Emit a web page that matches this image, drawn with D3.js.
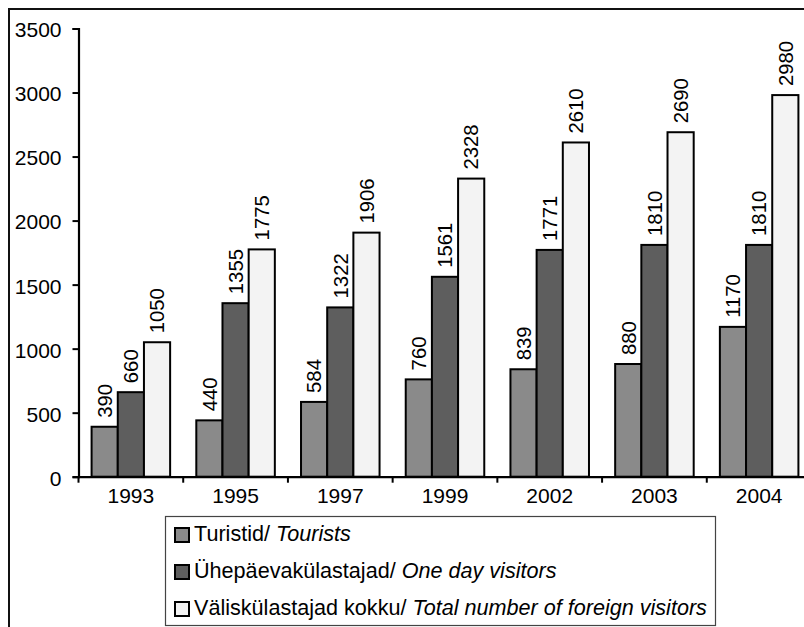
<!DOCTYPE html>
<html>
<head>
<meta charset="utf-8">
<script src="https://cdn.jsdelivr.net/npm/d3@7"></script>
<style>
  html, body { margin: 0; padding: 0; background: #fff; }
  svg { display: block; font-family: "Liberation Sans", Arial, sans-serif; }
</style>
</head>
<body>
<svg id="chart" width="804" height="627"></svg>
<script>
const years = ["1993", "1995", "1997", "1999", "2002", "2003", "2004"];
const tourists = [390, 440, 584, 760, 839, 880, 1170];
const oneDay = [660, 1355, 1322, 1561, 1771, 1810, 1810];
const total = [1050, 1775, 1906, 2328, 2610, 2690, 2980];
const yTicks = [0, 500, 1000, 1500, 2000, 2500, 3000, 3500];
const seriesKeys = ["tourists", "oneDay", "total"];
const seriesValues = [tourists, oneDay, total];
const seriesColors = ["#8a8a8a", "#5e5e5e", "#f3f3f3"];
const legendEt = ["Turistid/ ", "Ühepäevakülastajad/ ", "Väliskülastajad kokku/ "];
const legendEn = ["Tourists", "One day visitors", "Total number of foreign visitors"];

const FONT = "'Liberation Sans', Arial, sans-serif";
const svg = d3.select("#chart");

// outer chart frame (right/bottom edges fall outside the picture)
svg.append("rect")
  .attr("x", 9).attr("y", 9)
  .attr("width", 830).attr("height", 650)
  .attr("fill", "none").attr("stroke", "#111").attr("stroke-width", 2);

const x0 = 78.5, x1 = 811.5;
const y = d3.scaleLinear().domain([0, 3500]).range([476.7, 28.5]);
const x = d3.scaleBand().domain(years).range([x0, x1]).padding(0);
const step = x.step();
const xs = d3.scaleBand().domain(seriesKeys).range([step / 8, step * 7 / 8]).padding(0);

// bars
const g = svg.append("g");
years.forEach((yr, i) => {
  seriesKeys.forEach((k, j) => {
    const v = seriesValues[j][i];
    const bx = x(yr) + xs(k);
    g.append("rect")
      .attr("x", bx).attr("y", y(v))
      .attr("width", xs.bandwidth()).attr("height", y(0) - y(v))
      .attr("fill", seriesColors[j])
      .attr("stroke", "#000").attr("stroke-width", 2);
    g.append("text")
      .attr("transform", `translate(${bx + xs.bandwidth() / 2},${y(v) - 9}) rotate(-90)`)
      .attr("dy", "0.36em")
      .attr("text-anchor", "start")
      .attr("font-family", FONT)
      .attr("font-size", 20.3)
      .attr("fill", "#000")
      .text(v);
  });
});

// y axis
const yAxis = d3.axisLeft(y).tickValues(yTicks).tickSize(6).tickPadding(11).tickFormat(d3.format("d"));
const ya = svg.append("g").attr("transform", `translate(${x0},0)`).call(yAxis);
ya.select(".domain").attr("stroke", "#000").attr("stroke-width", 2.2);
ya.selectAll(".tick line").attr("stroke", "#000").attr("stroke-width", 2);
ya.selectAll(".tick text").attr("font-size", 21).attr("font-family", FONT).attr("fill", "#000").attr("dy", "0.4em");

// x axis
const xAxis = d3.axisBottom(x).tickSize(0).tickPadding(11);
const xa = svg.append("g").attr("transform", `translate(0,${y(0)})`).call(xAxis);
xa.select(".domain").attr("stroke", "#000").attr("stroke-width", 2.2);
xa.selectAll(".tick text").attr("font-size", 21).attr("font-family", FONT).attr("fill", "#000").attr("dy", "0.71em");
// boundary ticks
const bounds = years.map(yr => x(yr)).concat([x1]);
xa.selectAll(".btick").data(bounds).enter().append("line")
  .attr("x1", d => d).attr("x2", d => d)
  .attr("y1", 0).attr("y2", 6)
  .attr("stroke", "#000").attr("stroke-width", 2);

// legend
const lg = svg.append("g");
lg.append("rect")
  .attr("x", 165.5).attr("y", 516.5)
  .attr("width", 550).attr("height", 109)
  .attr("fill", "#fff").attr("stroke", "#444").attr("stroke-width", 1.2);
const rowTop = [528, 565, 602];
seriesKeys.forEach((k, j) => {
  lg.append("rect")
    .attr("x", 175).attr("y", rowTop[j])
    .attr("width", 14).attr("height", 14)
    .attr("fill", seriesColors[j]).attr("stroke", "#000").attr("stroke-width", 2);
  const t = lg.append("text")
    .attr("x", 194).attr("y", rowTop[j] + 12.5)
    .attr("font-family", FONT)
    .attr("font-size", 21.6).attr("fill", "#000");
  t.append("tspan").text(legendEt[j]);
  t.append("tspan").attr("font-style", "italic").text(legendEn[j]);
});
</script>
</body>
</html>
